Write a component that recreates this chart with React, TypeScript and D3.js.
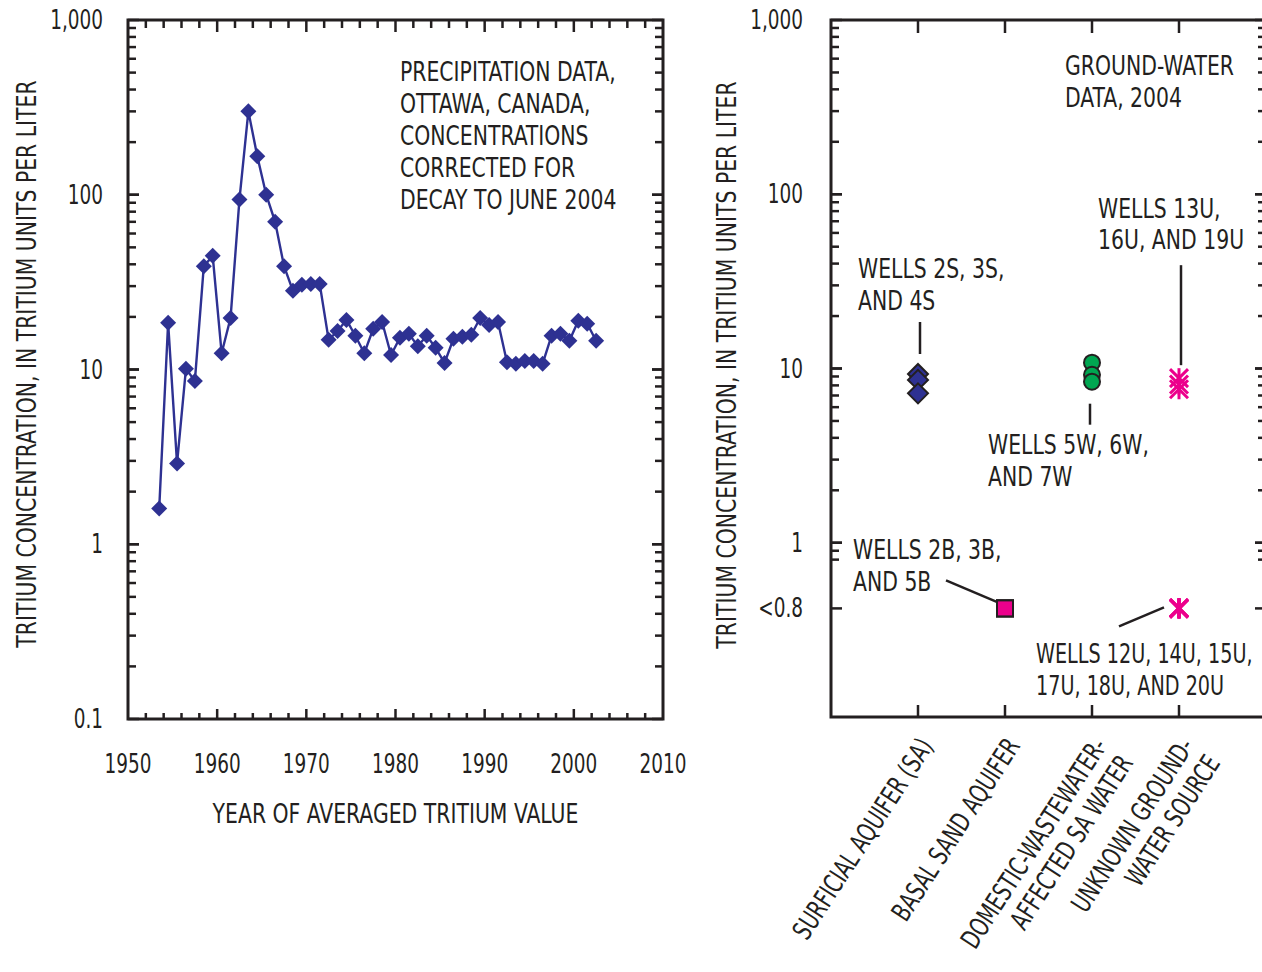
import * as d3 from "d3";
import React, { useEffect, useRef } from "react";

// Precipitation tritium, Ottawa (decay corrected to June 2004)
const precipYears = [
  1953, 1954, 1955, 1956, 1957, 1958, 1959, 1960, 1961, 1962, 1963, 1964, 1965,
  1966, 1967, 1968, 1969, 1970, 1971, 1972, 1973, 1974, 1975, 1976, 1977, 1978,
  1979, 1980, 1981, 1982, 1983, 1984, 1985, 1986, 1987, 1988, 1989, 1990, 1991,
  1992, 1993, 1994, 1995, 1996, 1997, 1998, 1999, 2000, 2001, 2002,
];
const precipTritium = [
  1.6, 18.5, 2.9, 10.1, 8.6, 39, 44.7, 12.4, 19.7, 94, 300, 166, 100, 70, 39,
  28.2, 30.5, 30.9, 30.9, 14.8, 16.6, 19.2, 15.6, 12.4, 17.1, 18.7, 12.1, 15.2,
  16.0, 13.6, 15.6, 13.3, 10.9, 15.0, 15.4, 15.8, 19.7, 18.0, 18.7, 11.0, 10.8,
  11.2, 11.2, 10.8, 15.6, 16.0, 14.6, 19.0, 18.3, 14.6,
];

// Ground-water samples, 2004
const gwCategories = ["SA", "BASAL", "DOMESTIC", "UNKNOWN"];
const gwCategoryLabels = [
  ["SURFICIAL AQUIFER (SA)"],
  ["BASAL SAND AQUIFER"],
  ["DOMESTIC-WASTEWATER-", "AFFECTED SA WATER"],
  ["UNKNOWN GROUND-", "WATER SOURCE"],
];
const surficialWells = [9.3, 8.6, 7.2]; // 2S, 3S, 4S
const wastewaterWells = [10.8, 9.2, 8.4]; // 5W, 6W, 7W
const unknownWells = [8.8, 8.1, 7.6]; // 13U, 16U, 19U
const basalBelowDetection = ["2B", "3B", "5B"];
const unknownBelowDetection = ["12U", "14U", "15U", "17U", "18U", "20U"];
const belowDetectionPlotAt = 0.42; // where "<0.8" sits on the log axis

const yTickValues = [0.1, 1, 10, 100, 1000];
const yTickLabels = ["0.1", "1", "10", "100", "1,000"];
const yTickLabelsRight = ["", "1", "10", "100", "1,000"];
const xTickValues = [1950, 1960, 1970, 1980, 1990, 2000, 2010];

const FONT = "'DejaVu Sans Condensed','DejaVu Sans',sans-serif";
const INK = "#231f20";
const NAVY = "#2e3192";
const GREEN = "#00a651";
const MAGENTA = "#ec008c";
const FS = 27;
const SX = 0.84; // horizontal squeeze for words
const SXN = 0.76; // horizontal squeeze for numbers

const App = () => {
  const ref = useRef<SVGSVGElement | null>(null);

  useEffect(() => {
    if (ref.current) draw();
    return () => {
      d3.select(ref.current).selectAll("*").remove();
    };
  }, []);

  const draw = () => {
    const svg = d3.select(ref.current);

    const text = (g: any, x: number, y: number, s: string, anchor = "start", sx = SX, rot = 0) =>
      g.append("text")
        .attr("transform", `translate(${x},${y}) rotate(${rot}) scale(${sx},1)`)
        .attr("dominant-baseline", "central")
        .attr("text-anchor", anchor)
        .attr("font-family", FONT)
        .attr("font-size", FS)
        .attr("fill", INK)
        .text(s);

    const minorLog: number[] = [];
    [0.1, 1, 10, 100].forEach((d) => {
      for (let m = 1; m <= 10; m++) minorLog.push(d * m);
    });

    const tick = (g: any, x1: number, y1: number, x2: number, y2: number) =>
      g.append("line")
        .attr("x1", x1).attr("y1", y1).attr("x2", x2).attr("y2", y2)
        .attr("stroke", INK).attr("stroke-width", 2.5);

    // ---------- left chart ----------
    const L = { left: 128, right: 663, top: 20, bottom: 719 };
    const x = d3.scaleLinear().domain([1950, 2010]).range([L.left, L.right]);
    const y = d3.scaleLog().domain([0.1, 1000]).range([L.bottom, L.top]);

    const left = svg.append("g");
    minorLog.forEach((v) => {
      const len = yTickValues.includes(v) ? 11 : 8;
      tick(left, L.left, y(v), L.left + len, y(v));
      tick(left, L.right, y(v), L.right - len, y(v));
    });
    for (let yr = 1952; yr < 2010; yr += 2) {
      const major = yr % 10 === 0;
      tick(left, x(yr), L.top, x(yr), L.top + (major ? 12 : 8));
      tick(left, x(yr), L.bottom, x(yr), L.bottom - (major ? 10 : 6));
    }
    left.append("rect")
      .attr("x", L.left).attr("y", L.top)
      .attr("width", L.right - L.left).attr("height", L.bottom - L.top)
      .attr("fill", "none").attr("stroke", INK).attr("stroke-width", 3);

    yTickValues.forEach((v, i) => text(left, 103, y(v), yTickLabels[i], "end", SXN));
    xTickValues.forEach((v) => text(left, x(v), 764, String(v), "middle", SXN));
    text(left, (L.left + L.right) / 2, 814, "YEAR OF AVERAGED TRITIUM VALUE", "middle");
    text(left, 27, 364, "TRITIUM CONCENTRATION, IN TRITIUM UNITS PER LITER", "middle", SX, -90);

    ["PRECIPITATION DATA,", "OTTAWA, CANADA,", "CONCENTRATIONS", "CORRECTED FOR", "DECAY TO JUNE 2004"]
      .forEach((s, i) => text(left, 400, 72 + i * 32, s));

    const pts = precipYears.map((yr, i) => ({ yr: yr + 0.5, v: precipTritium[i] }));
    const line = d3.line<any>().x((d) => x(d.yr)).y((d) => y(d.v));
    left.append("path")
      .attr("d", line(pts))
      .attr("fill", "none")
      .attr("stroke", NAVY)
      .attr("stroke-width", 2.4);
    left.selectAll(".pd")
      .data(pts)
      .enter()
      .append("path")
      .attr("class", "pd")
      .attr("d", "M0,-8L8,0L0,8L-8,0Z")
      .attr("transform", (d) => `translate(${x(d.yr)},${y(d.v)})`)
      .attr("fill", NAVY);

    // ---------- right chart ----------
    const R = { left: 831, right: 1266, top: 20, bottom: 717 };
    const xc = d3.scalePoint().domain(gwCategories).range([R.left, R.right]).padding(1);
    const yr = d3.scaleLog().domain([0.1, 1000]).range([R.bottom, R.top]);
    const right = svg.append("g");

    minorLog.filter((v) => v >= 0.8).forEach((v) => {
      const len = yTickValues.includes(v) ? 11 : 8;
      tick(right, R.left, yr(v), R.left + len, yr(v));
      tick(right, R.right, yr(v), R.right - len, yr(v));
    });
    tick(right, R.left, yr(belowDetectionPlotAt), R.left + 11, yr(belowDetectionPlotAt));
    tick(right, R.right, yr(belowDetectionPlotAt), R.right - 11, yr(belowDetectionPlotAt));
    gwCategories.forEach((c) => {
      tick(right, xc(c)!, R.top, xc(c)!, R.top + 13);
      tick(right, xc(c)!, R.bottom, xc(c)!, R.bottom - 12);
    });
    right.append("rect")
      .attr("x", R.left).attr("y", R.top)
      .attr("width", R.right - R.left).attr("height", R.bottom - R.top)
      .attr("fill", "none").attr("stroke", INK).attr("stroke-width", 3);

    yTickValues.forEach((v, i) => {
      if (yTickLabelsRight[i]) text(right, 803, yr(v), yTickLabelsRight[i], "end", SXN);
    });
    text(right, 803, yr(belowDetectionPlotAt), "<0.8", "end", SXN);
    text(right, 727, 365, "TRITIUM CONCENTRATION, IN TRITIUM UNITS PER LITER", "middle", SX, -90);

    gwCategoryLabels.forEach((lines, i) => {
      const g = right.append("g")
        .attr("transform", `translate(${xc(gwCategories[i])! + 16},746) rotate(-57)`);
      lines.forEach((s, j) => {
        g.append("text")
          .attr("transform", `translate(0,${j * 31}) scale(0.78,1)`)
          .attr("text-anchor", "end")
          .attr("font-family", FONT)
          .attr("font-size", FS)
          .attr("fill", INK)
          .text(s);
      });
    });

    ["GROUND-WATER", "DATA, 2004"].forEach((s, i) => text(right, 1065, 66 + i * 32, s));

    // markers
    const xSA = xc("SA")!;
    const xB = xc("BASAL")!;
    const xD = xc("DOMESTIC")!;
    const xU = xc("UNKNOWN")!;
    const yBD = yr(belowDetectionPlotAt);

    const asterisk = (cx: number, cy: number) => {
      const r = 10;
      const d = 9;
      [[0, -r, 0, r], [-d, -d, d, d], [-d, d, d, -d]]
        .forEach(([a, b, c, e]) =>
          right.append("line")
            .attr("x1", cx + a).attr("y1", cy + b).attr("x2", cx + c).attr("y2", cy + e)
            .attr("stroke", MAGENTA).attr("stroke-width", 3));
    };

    const leader = (x1: number, y1: number, x2: number, y2: number) =>
      right.append("line")
        .attr("x1", x1).attr("y1", y1).attr("x2", x2).attr("y2", y2)
        .attr("stroke", INK).attr("stroke-width", 2.5);

    const ySA = yr(surficialWells[0]);
    leader(xSA + 2, ySA - 52, xSA + 2, ySA - 20);
    text(right, xSA - 60, ySA - 105, "WELLS 2S, 3S,");
    text(right, xSA - 60, ySA - 73, "AND 4S");

    const yD = yr(wastewaterWells[wastewaterWells.length - 1]);
    leader(xD - 2, yD + 22, xD - 2, yD + 43);
    text(right, xD - 104, yD + 63, "WELLS 5W, 6W,");
    text(right, xD - 104, yD + 95, "AND 7W");

    const yU = yr(unknownWells[0]);
    leader(xU + 2, yU - 113, xU + 2, yU - 13);
    text(right, xU - 81, yU - 169, "WELLS 13U,");
    text(right, xU - 81, yU - 138, "16U, AND 19U");

    leader(xB - 59, yBD - 28, xB, yBD - 3);
    text(right, xB - 152, yBD - 59, "WELLS 2B, 3B,");
    text(right, xB - 152, yBD - 27, "AND 5B");

    leader(xU - 60, yBD + 18, xU - 15, yBD - 1);
    text(right, xU - 143, yBD + 45, "WELLS 12U, 14U, 15U,", "start", 0.79);
    text(right, xU - 143, yBD + 77, "17U, 18U, AND 20U", "start", 0.79);

    surficialWells.forEach((v) =>
      right.append("path")
        .attr("d", "M0,-10L10,0L0,10L-10,0Z")
        .attr("transform", `translate(${xSA},${yr(v)})`)
        .attr("fill", NAVY).attr("stroke", INK).attr("stroke-width", 2));

    wastewaterWells.forEach((v) =>
      right.append("circle")
        .attr("cx", xD).attr("cy", yr(v)).attr("r", 8)
        .attr("fill", GREEN).attr("stroke", INK).attr("stroke-width", 2));

    unknownWells.forEach((v) => asterisk(xU, yr(v)));

    basalBelowDetection.forEach(() =>
      right.append("rect")
        .attr("x", xB - 8).attr("y", yBD - 8).attr("width", 16).attr("height", 16)
        .attr("fill", MAGENTA).attr("stroke", INK).attr("stroke-width", 2));
    unknownBelowDetection.forEach(() => asterisk(xU, yBD));
  };

  return (
    <svg
      ref={ref}
      width={1262}
      height={972}
      style={{ position: "absolute", left: 0, top: 0, background: "#fff" }}
    />
  );
};

export default App;
